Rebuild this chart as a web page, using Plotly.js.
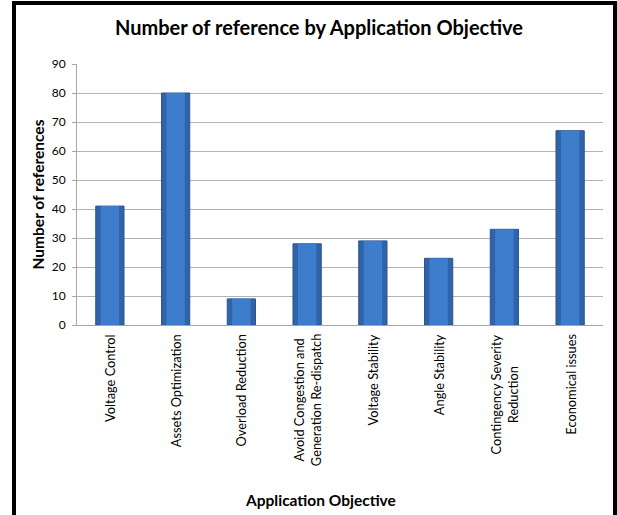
<!DOCTYPE html>
<html>
<head>
<meta charset="utf-8">
<script src="https://cdn.plot.ly/plotly-3.0.1.min.js"></script>
<style>
  html, body { margin: 0; padding: 0; background: #fff; }
  #wrap { position: relative; width: 617px; height: 515px; overflow: hidden; }
  #chart { width: 617px; height: 515px; }
  #frame { position: absolute; left: 12px; top: 1px; width: 605px; height: 530px;
           border: 4px solid #000; pointer-events: none; box-sizing: border-box; }
</style>
</head>
<body>
<div id="wrap">
  <div id="chart"></div>
  <div id="frame"></div>
</div>
<script>
const categories = [
  "Voltage Control",
  "Assets Optimization",
  "Overload Reduction",
  "Avoid Congestion and<br>Generation Re-dispatch",
  "Voltage Stability",
  "Angle Stability",
  "Contingency Severity<br>Reduction",
  "Economical issues"
];
const references = [41, 80, 9, 28, 29, 23, 33, 67];
const yTicks = [0, 10, 20, 30, 40, 50, 60, 70, 80, 90];

const FONT = "Lato, 'Open Sans', 'Liberation Sans', sans-serif";

// outer (darker edge) bar
const barOuter = {
  type: "bar",
  x: categories,
  y: references,
  width: 0.43,
  marker: {
    color: "#3163a8",
    line: { color: "#2a5590", width: 1 }
  },
  hoverinfo: "x+y"
};
// inner (lighter body) bar, same data, narrower for a cylinder-like sheen
const barInner = {
  type: "bar",
  x: categories,
  y: references,
  width: 0.28,
  marker: {
    color: "#3e7dcc",
    line: { width: 0 }
  },
  hoverinfo: "skip"
};

// category labels as rotated, centre-aligned text under each bar
const catLabels = categories.map(c => ({
  text: c,
  xref: "x", yref: "paper",
  x: c, y: 0,
  yshift: -7,
  xanchor: "center", yanchor: "top",
  textangle: -90,
  align: "center",
  showarrow: false,
  font: { family: FONT, size: 12.8, color: "#000" }
}));

const layout = {
  width: 617,
  height: 515,
  margin: { l: 77, r: 14, t: 64, b: 190 },
  paper_bgcolor: "#ffffff",
  plot_bgcolor: "#ffffff",
  font: { family: FONT, color: "#000" },
  title: {
    text: "<b>Number of reference by Application Objective</b>",
    font: { family: FONT, size: 20, color: "#000" },
    x: 0.517, xref: "container", xanchor: "center",
    y: 0.946, yref: "container", yanchor: "middle"
  },
  barmode: "overlay",
  showlegend: false,
  xaxis: {
    type: "category",
    showticklabels: false,
    showline: true, linecolor: "#a6a6a6", linewidth: 1,
    showgrid: false,
    ticks: "",
    automargin: false
  },
  yaxis: {
    range: [0, 90],
    tickvals: yTicks,
    ticktext: yTicks.map(String),
    tickfont: { family: FONT, size: 12, color: "#000" },
    showline: true, linecolor: "#a6a6a6", linewidth: 1,
    showgrid: true, gridcolor: "#b3b3b3", gridwidth: 1,
    ticks: "outside", ticklen: 4, tickcolor: "#a6a6a6",
    ticklabelstandoff: 4,
    zeroline: false,
    automargin: false,
    title: {
      text: "<b>Number of references</b>",
      font: { family: FONT, size: 15.5, color: "#000" },
      standoff: 3
    }
  },
  annotations: catLabels.concat([{
    text: "<b>Application Objective</b>",
    xref: "paper", yref: "paper",
    x: 0.462, y: -0.67,
    xanchor: "center", yanchor: "middle",
    showarrow: false,
    font: { family: FONT, size: 15.5, color: "#000" }
  }])
};

Plotly.newPlot("chart", [barOuter, barInner], layout, { displayModeBar: false, staticPlot: true });
</script>
</body>
</html>
